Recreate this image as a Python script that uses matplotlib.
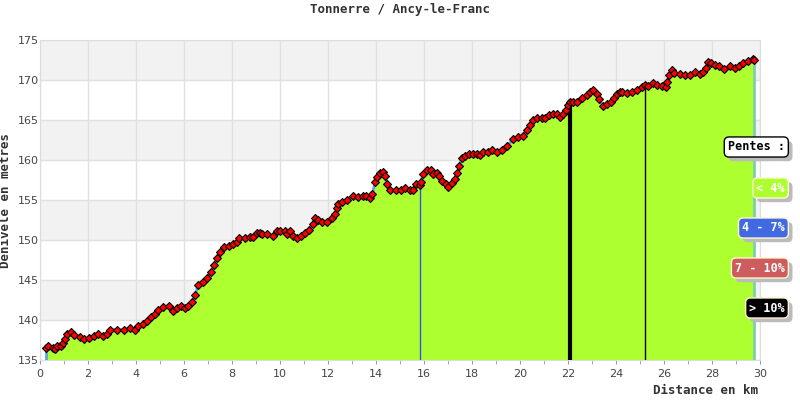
import matplotlib
matplotlib.use("Agg")
import matplotlib.pyplot as plt
import matplotlib.patheffects as pe
import numpy as np

dist = [0.25, 0.35, 0.53, 0.62, 0.7, 0.86, 0.97, 1.04, 1.14, 1.29, 1.43, 1.67, 1.85, 2.05, 2.26,
	2.43, 2.61, 2.78, 2.92, 3.19, 3.5, 3.75, 3.96, 4.1, 4.3, 4.44, 4.63, 4.79, 4.93, 5.14,
	5.39, 5.53, 5.69, 5.86, 6.04, 6.18, 6.32, 6.46, 6.6, 6.78, 6.94, 7.11, 7.25, 7.36, 7.5,
	7.68, 7.89, 8.05, 8.22, 8.3, 8.54, 8.75, 8.89, 9.03, 9.17, 9.24, 9.47, 9.69, 9.86, 10.0,
	10.21, 10.28, 10.42, 10.56, 10.72, 10.86, 11.04, 11.22, 11.36, 11.46, 11.6, 11.74, 11.94, 12.15, 12.29,
	12.39, 12.43, 12.57, 12.78, 13.05, 13.26, 13.47, 13.6, 13.75, 13.85, 13.96, 14.03, 14.17, 14.28, 14.38,
	14.47, 14.58, 14.83, 15.03, 15.21, 15.42, 15.56, 15.67, 15.83, 15.86, 15.97, 16.11, 16.28, 16.36, 16.53,
	16.64, 16.74, 16.92, 17.01, 17.15, 17.29, 17.39, 17.47, 17.57, 17.71, 17.89, 18.05, 18.22, 18.33, 18.47,
	18.65, 18.82, 19.03, 19.24, 19.44, 19.72, 19.93, 20.14, 20.28, 20.42, 20.56, 20.7, 20.9, 21.04, 21.22,
	21.39, 21.53, 21.67, 21.8, 21.92, 22.01, 22.08, 22.22, 22.39, 22.57, 22.78, 22.92, 23.06, 23.2, 23.3,
	23.45, 23.61, 23.78, 23.92, 24.03, 24.17, 24.24, 24.45, 24.65, 24.86, 25.07, 25.21, 25.35, 25.53, 25.69,
	25.9, 26.08, 26.14, 26.22, 26.32, 26.42, 26.67, 26.88, 27.08, 27.29, 27.5, 27.64, 27.75, 27.85, 27.95,
	28.13, 28.3, 28.5, 28.75, 28.96, 29.14, 29.3, 29.51, 29.72, 29.76]
elev = [136.5, 136.7, 136.5, 136.4, 136.75, 136.7, 137.1, 137.6, 138.3, 138.5, 138.1, 137.9, 137.6, 137.7, 138.0,
	138.2, 138.05, 138.3, 138.8, 138.8, 138.8, 139.0, 138.8, 139.2, 139.5, 139.9, 140.4, 140.8, 141.3, 141.6,
	141.75, 141.1, 141.5, 141.8, 141.5, 141.75, 142.2, 143.1, 144.4, 144.8, 145.3, 146.0, 146.9, 147.7, 148.5,
	149.1, 149.25, 149.5, 149.7, 150.2, 150.3, 150.4, 150.4, 150.9, 150.9, 150.7, 150.75, 150.5, 151.1, 151.1,
	151.1, 150.8, 151.1, 150.5, 150.3, 150.5, 150.9, 151.3, 152.0, 152.8, 152.5, 152.3, 152.3, 152.7, 153.25,
	154.0, 154.5, 154.8, 155.0, 155.5, 155.4, 155.5, 155.5, 155.2, 155.75, 157.2, 157.9, 158.4, 158.5, 158.0,
	157.0, 156.2, 156.25, 156.2, 156.5, 156.3, 156.3, 157.0, 156.9, 157.3, 158.25, 158.8, 158.7, 158.3, 158.4,
	158.0, 157.4, 157.0, 156.6, 157.1, 157.6, 158.4, 159.25, 160.2, 160.5, 160.75, 160.8, 160.75, 160.6, 161.0,
	161.0, 161.2, 161.0, 161.2, 161.7, 162.6, 162.9, 163.0, 163.75, 164.4, 165.0, 165.3, 165.2, 165.3, 165.6,
	165.8, 165.75, 165.4, 165.75, 166.25, 166.9, 167.3, 167.2, 167.2, 167.7, 168.1, 168.5, 168.7, 168.3, 167.6,
	166.75, 167.0, 167.3, 167.7, 168.25, 168.5, 168.5, 168.4, 168.5, 168.7, 169.1, 169.4, 169.25, 169.6, 169.4,
	169.25, 169.1, 169.8, 170.6, 171.3, 170.9, 170.75, 170.6, 170.6, 171.0, 170.75, 171.0, 171.5, 172.3, 172.1,
	171.9, 171.7, 171.4, 171.7, 171.5, 171.75, 172.1, 172.4, 172.6, 172.5]

# vertical markers along the profile (km, colour, width)
marks_km = [15.85, 22.1, 25.2, 29.76]
marks_col = ["#3355ee", "black", "black", "#80ccb0"]
marks_w = [1.0, 3.0, 1.0, 2.0]

legend_txt = ["Pentes :", "< 4%", "4 - 7%", "7 - 10%", "> 10%"]
legend_bg = ["white", "#adff2f", "#4169e1", "#cd5c5c", "black"]
legend_fg = ["black", "white", "white", "white", "white"]

mono = "DejaVu Sans Mono"

fig = plt.figure(figsize=(8, 4), dpi=100)
ax = fig.add_axes([0.05, 0.1, 0.9, 0.8])
ax.set_xlim(0, 30)
ax.set_ylim(135, 175)

# alternating bands
for y0 in range(135, 175, 10):
	ax.axhspan(y0 + 5, y0 + 10, color="#f2f2f2", zorder=0, lw=0)
ax.set_xticks(np.arange(0, 31, 2))
ax.set_xticks(np.arange(1, 30, 2), minor=True)
ax.set_yticks(np.arange(135, 176, 5))
ax.grid(True, color="#e0e0e0", lw=1, zorder=0.5)
ax.set_axisbelow(True)

for s in ax.spines.values():
	s.set_color("#dddddd")
ax.tick_params(axis="both", which="both", colors="#999999", labelcolor="#444444", labelsize=8, length=3)
ax.tick_params(axis="y", length=0, pad=1)

d = np.array(dist)
e = np.array(elev)
ax.fill_between(d, 135, e, color="#adff2f", lw=0, zorder=2)
for k, c, w in zip(marks_km, marks_col, marks_w):
	ax.plot([k, k], [135, np.interp(k, d, e)], color=c, lw=w, zorder=3)
ax.plot([d[0], d[0]], [135, e[0]], color="#5aa0e6", lw=2, zorder=3)
ax.plot(d, e, color="#5aa0e6", lw=2, zorder=4)
ax.plot(d, e, ls="none", marker="D", ms=4, mfc="red", mec="black", mew=0.8, zorder=5)

fig.text(0.5, 0.975, "Tonnerre / Ancy-le-Franc", ha="center", va="center",
	family=mono, weight="bold", size=9, color="#333333")
ax.set_ylabel("Dénivelé en mètres", family=mono, weight="bold", size=9, color="#333333", labelpad=4)
fig.text(0.948, 0.025, "Distance en km", ha="right", va="center",
	family=mono, weight="bold", size=9, color="#333333")

# legend boxes, with a grey drop shadow
ys = [147, 188, 228, 268, 308]
for t, bg, fg, yp in zip(legend_txt, legend_bg, legend_fg, ys):
	txt = fig.text(0.981, 1 - yp / 400.0, t, ha="right", va="center", family=mono, weight="bold",
		size=8.5, color=fg, zorder=10,
		bbox=dict(boxstyle="round,pad=0.3,rounding_size=0.4", fc=bg,
			ec="black" if bg == "white" else "#fff8d0", lw=1))
	txt.get_bbox_patch().set_path_effects([
		pe.SimplePatchShadow(offset=(3, -3), shadow_rgbFace="#bbbbbb", alpha=1.0),
		pe.Normal()])

fig.savefig("out.png", dpi=100)
